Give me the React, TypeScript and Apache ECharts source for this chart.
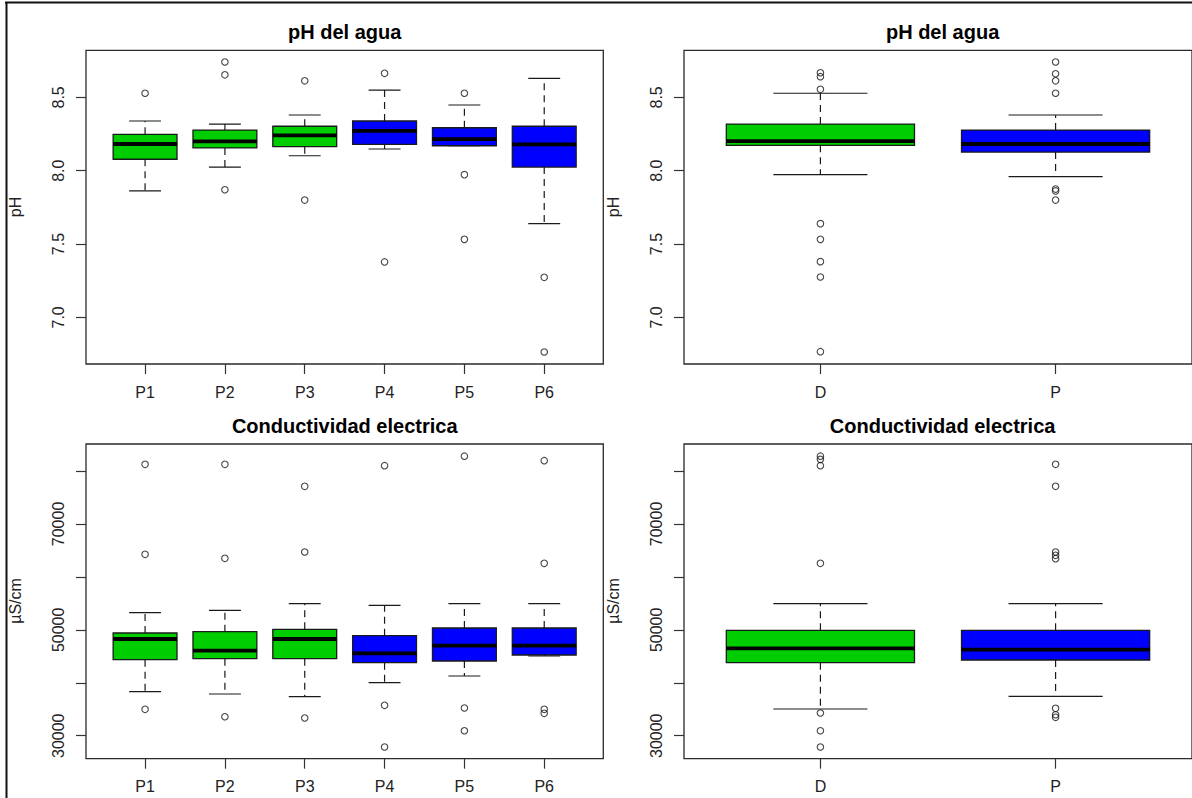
import React, { useEffect, useRef } from "react";
import * as echarts from "echarts";

// ---------- data ----------
const siteNames = ["P1", "P2", "P3", "P4", "P5", "P6"];
const groupNames = ["D", "P"];
const siteColors = ["#00CD00", "#00CD00", "#00CD00", "#0000FF", "#0000FF", "#0000FF"];
const groupColors = ["#00CD00", "#0000FF"];

// [lower whisker, Q1, median, Q3, upper whisker]
const phSiteStats = [
  [7.862, 8.078, 8.182, 8.248, 8.339],
  [8.025, 8.155, 8.2, 8.277, 8.318],
  [8.102, 8.164, 8.241, 8.303, 8.38],
  [8.148, 8.18, 8.271, 8.339, 8.55],
  [8.17, 8.17, 8.216, 8.293, 8.448],
  [7.639, 8.025, 8.18, 8.303, 8.63],
];
// [position, value]
const phSiteOutliers = [
  [1, 8.528],
  [2, 8.741], [2, 8.654], [2, 7.87],
  [3, 8.613], [3, 7.8],
  [4, 8.664], [4, 7.378],
  [5, 8.528], [5, 7.973], [5, 7.532],
  [6, 7.273], [6, 6.764],
];

const phGroupStats = [
  [7.973, 8.173, 8.202, 8.318, 8.528],
  [7.959, 8.127, 8.182, 8.277, 8.38],
];
const phGroupOutliers = [
  [1, 8.668], [1, 8.641], [1, 8.555], [1, 7.639], [1, 7.532], [1, 7.38], [1, 7.275], [1, 6.766],
  [2, 8.741], [2, 8.661], [2, 8.613], [2, 8.528], [2, 7.875], [2, 7.862], [2, 7.8],
];

const condSiteStats = [
  [38311, 44356, 48266, 49400, 53234],
  [37877, 44545, 46056, 49645, 53687],
  [37367, 44545, 48266, 50098, 54934],
  [40011, 43789, 45565, 48889, 54632],
  [41277, 44110, 47001, 50344, 54934],
  [45055, 45244, 47001, 50344, 54934],
];
const condSiteOutliers = [
  [1, 81266], [1, 64265], [1, 34986],
  [2, 81266], [2, 63510], [2, 33589],
  [3, 77110], [3, 64700], [3, 33343],
  [4, 81001], [4, 35742], [4, 27865],
  [5, 82800], [5, 35232], [5, 30945],
  [6, 81946], [6, 62565], [6, 34986], [6, 34231],
];

const condGroupStats = [
  [35044, 43789, 46510, 49910, 54934],
  [37440, 44300, 46245, 49910, 54934],
];
const condGroupOutliers = [
  [1, 82800], [1, 82200], [1, 81000], [1, 62565], [1, 34288], [1, 30945], [1, 27865],
  [2, 81266], [2, 77110], [2, 64700], [2, 64076], [2, 63434], [2, 35176], [2, 33966], [2, 33475],
];

const phTicks = [7.0, 7.5, 8.0, 8.5];
const condTicks = [30000, 40000, 50000, 60000, 70000, 80000];
const condLabels = [30000, 50000, 70000];

const phTitle = "pH del agua";
const condTitle = "Conductividad electrica";
const phAxisName = "pH";
const condAxisName = "µS/cm";

// ---------- helpers ----------
const FONT = "'Liberation Sans', Arial, Helvetica, sans-serif";
const INK = "#1a1a1a";

function boxRenderer(colors: string[]) {
  return (params: any, api: any) => {
    const x = api.value(0);
    const pMin = api.coord([x, api.value(1)]);
    const pQ1 = api.coord([x, api.value(2)]);
    const pMd = api.coord([x, api.value(3)]);
    const pQ3 = api.coord([x, api.value(4)]);
    const pMax = api.coord([x, api.value(5)]);
    const unit = api.size([1, 0])[0];
    const half = unit * 0.4;
    const cap = unit * 0.2;
    const cx = pMd[0];
    const dashStyle = { stroke: INK, lineWidth: 1.2, lineDash: [7, 5], fill: null };
    const solid = { stroke: INK, lineWidth: 1.2, fill: null };
    return {
      type: "group",
      children: [
        { type: "line", shape: { x1: cx, y1: pQ3[1], x2: cx, y2: pMax[1] }, style: dashStyle },
        { type: "line", shape: { x1: cx, y1: pQ1[1], x2: cx, y2: pMin[1] }, style: dashStyle },
        { type: "line", shape: { x1: cx - cap, y1: pMax[1], x2: cx + cap, y2: pMax[1] }, style: solid },
        { type: "line", shape: { x1: cx - cap, y1: pMin[1], x2: cx + cap, y2: pMin[1] }, style: solid },
        {
          type: "rect",
          shape: { x: cx - half, y: pQ3[1], width: half * 2, height: pQ1[1] - pQ3[1] },
          style: { fill: colors[params.dataIndex], stroke: INK, lineWidth: 1.3 },
        },
        {
          type: "line",
          shape: { x1: cx - half, y1: pMd[1], x2: cx + half, y2: pMd[1] },
          style: { stroke: "#000", lineWidth: 3.8 },
        },
      ],
    };
  };
}

const labelStyle = { fontFamily: FONT, fontSize: 16, color: "#222" };

function xAxisFor(gridIndex: number, names: string[], min: number, max: number) {
  const vals = names.map((_, i) => i + 1);
  return {
    type: "value",
    gridIndex,
    min,
    max,
    axisLine: { show: false },
    splitLine: { show: false },
    axisTick: { show: true, length: 10, customValues: vals, lineStyle: { color: "#333", width: 1.2 } },
    axisLabel: {
      ...labelStyle,
      margin: 20,
      customValues: vals,
      formatter: (v: number) => names[Math.round(v) - 1] ?? "",
    },
  };
}

function yAxisFor(gridIndex: number, min: number, max: number, ticks: number[], labels: number[], digits: number) {
  return {
    type: "value",
    gridIndex,
    min,
    max,
    axisLine: { show: false },
    splitLine: { show: false },
    axisTick: { show: true, length: 10, customValues: ticks, lineStyle: { color: "#333", width: 1.2 } },
    axisLabel: {
      ...labelStyle,
      rotate: 90,
      margin: 20,
      customValues: labels,
      formatter: (v: number) => v.toFixed(digits),
    },
  };
}

function boxSeries(idx: number, stats: number[][], colors: string[]) {
  return {
    type: "custom",
    xAxisIndex: idx,
    yAxisIndex: idx,
    renderItem: boxRenderer(colors),
    encode: { x: 0, y: [1, 2, 3, 4, 5] },
    data: stats.map((s, i) => [i + 1, ...s]),
    z: 2,
  };
}

function outlierSeries(idx: number, pts: number[][]) {
  return {
    type: "scatter",
    xAxisIndex: idx,
    yAxisIndex: idx,
    symbol: "circle",
    symbolSize: 6.5,
    itemStyle: { color: "rgba(0,0,0,0)", borderColor: INK, borderWidth: 1.1 },
    data: pts,
    z: 3,
  };
}

function centeredText(text: string, x: number, y: number, size: number, bold: boolean, rotate = 0) {
  return {
    type: "text",
    x,
    y,
    rotation: rotate,
    style: {
      text,
      fill: bold ? "#000" : "#222",
      font: `${bold ? "bold " : ""}${size}px ${FONT}`,
      textAlign: "center",
      textVerticalAlign: "middle",
    },
  };
}

export default function App() {
  const ref = useRef<HTMLDivElement>(null);

  useEffect(() => {
    if (!ref.current) return;
    const chart = echarts.init(ref.current, undefined, { renderer: "svg" });

    const PH_MIN = 6.682, PH_MAX = 8.821;
    const C_MIN = 25660, C_MAX = 85100;
    const gridBase = { show: true, borderColor: "#2a2a2a", borderWidth: 1.3, backgroundColor: "transparent" };

    chart.setOption({
      animation: false,
      backgroundColor: "#ffffff",
      grid: [
        { ...gridBase, left: 86, top: 50.3, width: 517.3, height: 313.7 },
        { ...gridBase, left: 684, top: 50.3, width: 517.3, height: 313.7 },
        { ...gridBase, left: 86, top: 444, width: 517.3, height: 314.7 },
        { ...gridBase, left: 684, top: 444, width: 517.3, height: 314.7 },
      ],
      xAxis: [
        xAxisFor(0, siteNames, 0.26, 6.74),
        xAxisFor(1, groupNames, 0.42, 2.58),
        xAxisFor(2, siteNames, 0.26, 6.74),
        xAxisFor(3, groupNames, 0.42, 2.58),
      ],
      yAxis: [
        yAxisFor(0, PH_MIN, PH_MAX, phTicks, phTicks, 1),
        yAxisFor(1, PH_MIN, PH_MAX, phTicks, phTicks, 1),
        yAxisFor(2, C_MIN, C_MAX, condTicks, condLabels, 0),
        yAxisFor(3, C_MIN, C_MAX, condTicks, condLabels, 0),
      ],
      series: [
        boxSeries(0, phSiteStats, siteColors),
        outlierSeries(0, phSiteOutliers),
        boxSeries(1, phGroupStats, groupColors),
        outlierSeries(1, phGroupOutliers),
        boxSeries(2, condSiteStats, siteColors),
        outlierSeries(2, condSiteOutliers),
        boxSeries(3, condGroupStats, groupColors),
        outlierSeries(3, condGroupOutliers),
      ],
      graphic: [
        { type: "line", shape: { x1: 5, y1: 2.5, x2: 1192, y2: 2.5 }, style: { stroke: "#111", lineWidth: 2 } },
        { type: "line", shape: { x1: 6.5, y1: 2, x2: 6.5, y2: 798 }, style: { stroke: "#111", lineWidth: 2 } },
        centeredText(phTitle, 344.7, 32, 20, true),
        centeredText(phTitle, 942.6, 32, 20, true),
        centeredText(condTitle, 344.7, 426, 20, true),
        centeredText(condTitle, 942.6, 426, 20, true),
        centeredText(phAxisName, 15, 207, 16, false, Math.PI / 2),
        centeredText(phAxisName, 613, 207, 16, false, Math.PI / 2),
        centeredText(condAxisName, 15, 601, 16, false, Math.PI / 2),
        centeredText(condAxisName, 613, 601, 16, false, Math.PI / 2),
      ],
    });

    return () => chart.dispose();
  }, []);

  return (
    <div
      ref={ref}
      style={{ position: "absolute", left: 0, top: 0, width: 1192, height: 798 }}
    />
  );
}
